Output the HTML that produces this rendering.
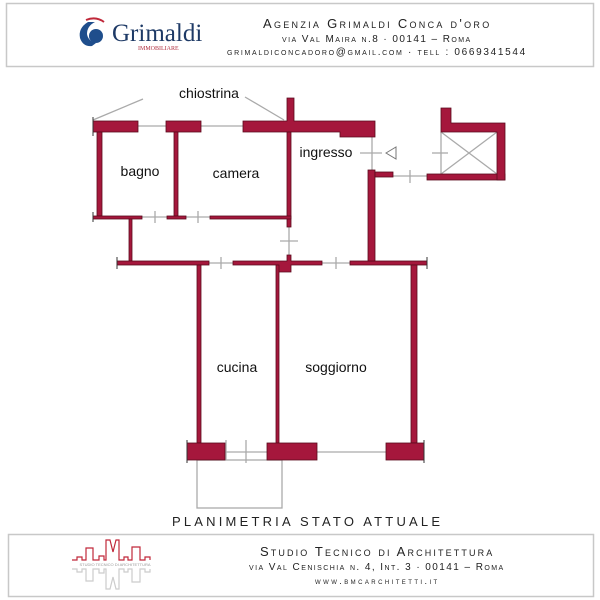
<!DOCTYPE html>
<html><head><meta charset="utf-8"><style>
html,body{margin:0;padding:0;background:#fff;width:600px;height:600px;overflow:hidden}
svg{display:block}
text{font-family:"Liberation Sans",sans-serif}
.sc{font-variant:small-caps;letter-spacing:1.8px;fill:#222}
</style></head><body>
<svg width="600" height="600" viewBox="0 0 600 600" xmlns="http://www.w3.org/2000/svg">
<!-- header -->
<rect x="6.5" y="3.5" width="587" height="63" fill="#fff" stroke="#c8c8c8" stroke-width="1.5"/>
<path d="M88 22 q-10 6 -8 16 q3 9 12 8 l4 -3 q-8 -2 -9 -9 q0 -8 8 -12z" fill="#1f4e8c"/>
<path d="M86 20 q10 -4 18 2" stroke="#c0283a" stroke-width="2" fill="none"/>
<circle cx="96" cy="36" r="7" fill="#1f4e8c"/>
<text x="112" y="41" font-size="25" fill="#1e3a66" style="font-family:'Liberation Serif',serif">Grimaldi</text>
<text x="138" y="50" font-size="6" fill="#b03040" style="font-family:'Liberation Serif',serif">IMMOBILIARE</text>
<text x="377" y="28" text-anchor="middle" font-size="13" class="sc" textLength="228" lengthAdjust="spacing">Agenzia Grimaldi Conca d'oro</text>
<text x="377" y="42" text-anchor="middle" font-size="10" class="sc" textLength="190" lengthAdjust="spacing">via Val Maira n.8 · 00141 – Roma</text>
<text x="377" y="55" text-anchor="middle" font-size="10" class="sc" textLength="300" lengthAdjust="spacing">grimaldiconcadoro@gmail.com · tell : 0669341544</text>

<g stroke="#aaa" stroke-width="1.3" fill="none">
<line x1="138" y1="126" x2="166" y2="126"/><line x1="201" y1="126" x2="243" y2="126"/>
<line x1="225" y1="452" x2="267" y2="452"/><line x1="317" y1="452" x2="386" y2="452"/>
<rect x="197" y="460" width="85" height="48"/>
<line x1="142" y1="217" x2="167" y2="217"/><line x1="186" y1="217" x2="210" y2="217"/>
<line x1="209" y1="263" x2="233" y2="263"/><line x1="322" y1="263" x2="350" y2="263"/>
<line x1="289" y1="227" x2="289" y2="255"/><line x1="280" y1="241" x2="298" y2="241"/>
<line x1="372" y1="137" x2="372" y2="170"/><line x1="360" y1="153" x2="382" y2="153"/>
<line x1="393" y1="176" x2="427" y2="176"/><line x1="410" y1="170" x2="410" y2="183"/>
<line x1="155" y1="211" x2="155" y2="223"/><line x1="198" y1="211" x2="198" y2="223"/>
<line x1="221" y1="257" x2="221" y2="269"/><line x1="336" y1="257" x2="336" y2="269"/>
<line x1="226" y1="440" x2="226" y2="460"/><line x1="246" y1="440" x2="246" y2="463"/>
<line x1="441" y1="132" x2="441" y2="174"/><line x1="441" y1="132" x2="497" y2="174"/><line x1="497" y1="132" x2="441" y2="174"/>
<line x1="432" y1="153" x2="448" y2="153"/>
<line x1="143" y1="99" x2="93" y2="120"/><line x1="245" y1="97" x2="284" y2="120"/>
</g>
<polygon points="386,153 396,147 396,159" fill="#fff" stroke="#777" stroke-width="1"/>

<g fill="#a5173c" stroke="#5a0a1c" stroke-width="0.8">
<rect x="93" y="121" width="45" height="11"/>
<rect x="166" y="121" width="35" height="11"/>
<path d="M243 121 H287 V98 H294 V121 H375 V137 H340 V132 H243Z"/>
<rect x="97" y="132" width="5" height="84"/>
<rect x="174" y="132" width="4" height="84"/>
<rect x="287" y="132" width="4" height="95"/>
<rect x="93" y="216" width="49" height="3"/>
<rect x="167" y="216" width="19" height="3"/>
<rect x="210" y="216" width="81" height="3"/>
<rect x="129" y="219" width="3" height="42"/>
<rect x="117" y="261" width="92" height="4"/>
<path d="M233 261 H287 V255 H291 V261 H322 V265 H291 V272 H278 V265 H233Z"/>
<rect x="350" y="261" width="77" height="4"/>
<rect x="368" y="170" width="7" height="91"/>
<rect x="375" y="172" width="18" height="5"/>
<rect x="427" y="174" width="78" height="6"/>
<path d="M441 108 H451 V123 H505 V180 H497 V132 H441Z"/>
<rect x="197" y="265" width="4" height="178"/>
<rect x="276" y="265" width="3" height="178"/>
<rect x="411" y="265" width="6" height="178"/>
<rect x="187" y="443" width="38" height="17"/>
<rect x="267" y="443" width="50" height="17"/>
<rect x="386" y="443" width="38" height="17"/>
</g>
<g stroke="#333" stroke-width="1">
<line x1="93" y1="117" x2="93" y2="136"/><line x1="93" y1="212" x2="93" y2="222"/>
<line x1="117" y1="257" x2="117" y2="269"/><line x1="427" y1="257" x2="427" y2="269"/>
<line x1="187" y1="440" x2="187" y2="463"/><line x1="424" y1="440" x2="424" y2="463"/>
</g>

<g font-size="14" fill="#111">
<text x="209" y="98" text-anchor="middle">chiostrina</text>
<text x="140" y="176" text-anchor="middle">bagno</text>
<text x="236" y="178" text-anchor="middle">camera</text>
<text x="326" y="157" text-anchor="middle">ingresso</text>
<text x="237" y="372" text-anchor="middle">cucina</text>
<text x="336" y="372" text-anchor="middle">soggiorno</text>
</g>
<text x="306" y="526" text-anchor="middle" font-size="13" fill="#222" textLength="268" lengthAdjust="spacing">PLANIMETRIA STATO ATTUALE</text>

<!-- footer -->
<rect x="8.5" y="534.5" width="585" height="62" fill="#fff" stroke="#c8c8c8" stroke-width="1.5"/>
<path d="M72 560 h5 v-3 h5 v3 h4 v-12 h7 v12 h6 v-4 h5 v4 h2 v-20 h4 l3 12 l3 -12 h3 v20 h5 v-3 h4 v3 h4 v-13 h8 v13 h5 v-3 h5 v3" fill="none" stroke="#c0283a" stroke-width="1.2"/>
<text x="115" y="566" text-anchor="middle" font-size="4" fill="#999">STUDIO TECNICO DI ARCHITETTURA</text>
<path d="M72 569 h5 v3 h5 v-3 h4 v12 h7 v-12 h6 v4 h5 v-4 h2 v20 h4 l3 -12 l3 12 h3 v-20 h5 v3 h4 v-3 h4 v13 h8 v-13 h5 v3 h5 v-3" fill="none" stroke="#ccc" stroke-width="1.2"/>
<text x="377" y="556" text-anchor="middle" font-size="13" class="sc" textLength="234" lengthAdjust="spacing">Studio Tecnico di Architettura</text>
<text x="377" y="570" text-anchor="middle" font-size="10" class="sc" textLength="256" lengthAdjust="spacing">via Val Cenischia n. 4, Int. 3 · 00141 – Roma</text>
<text x="377" y="584" text-anchor="middle" font-size="9" class="sc" textLength="124" lengthAdjust="spacing">www.bmcarchitetti.it</text>
</svg>
</body></html>
